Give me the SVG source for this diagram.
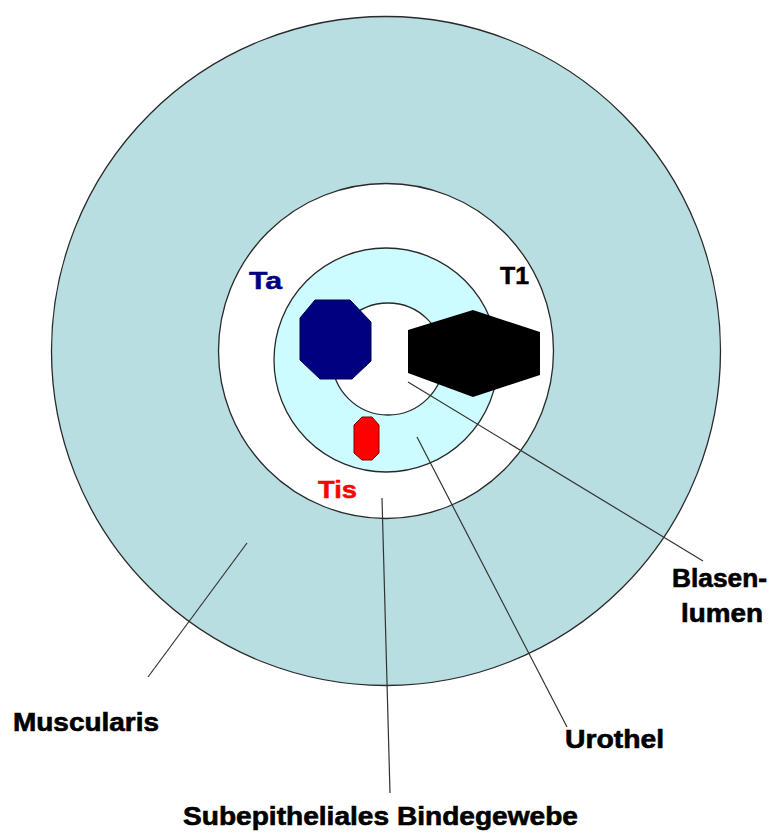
<svg xmlns="http://www.w3.org/2000/svg" width="776" height="834" viewBox="0 0 776 834">
  <style>
    .ring { stroke: #2a2a2a; stroke-width: 1.3; }
    .lbl { font-family: "Liberation Sans", Arial, sans-serif; font-weight: bold; font-size: 25px; fill: #000; stroke: #000; stroke-width: 0.6; }
    .tag { font-family: "Liberation Sans", Arial, sans-serif; font-weight: bold; font-size: 24px; stroke-width: 0.5; }
    .conn line { stroke: #333; stroke-width: 1.2; }
  </style>
  <rect x="0" y="0" width="776" height="834" fill="#ffffff"/>
  <g id="muscularis-layer">
    <circle class="ring" cx="386" cy="351" r="334.5" fill="#b8dee2"/>
  </g>
  <g id="subepithel-layer">
    <circle class="ring" cx="386" cy="351" r="167.5" fill="#ffffff"/>
  </g>
  <g id="urothel-layer">
    <circle class="ring" cx="386" cy="360" r="112" fill="#ccfcff"/>
  </g>
  <g id="lumen">
    <circle class="ring" cx="388" cy="359" r="56" fill="#ffffff"/>
  </g>
  <g id="ta-tumor">
    <polygon points="315,300 350,300 371,322 371,361 352,379 320,379 300,360 300,318" fill="#000080" stroke="#000050" stroke-width="1"/>
  </g>
  <g id="t1-tumor">
    <polygon points="473,310 540,332 540,375 473,397 408,373 408,330" fill="#000000"/>
  </g>
  <g id="tis-tumor">
    <polygon points="362,417 372,417 379,425 379,453 372,460 362,460 354,453 354,425" fill="#ff0000" stroke="#800000" stroke-width="1"/>
  </g>
  <g class="conn" id="connectors">
    <line x1="408" y1="382" x2="703" y2="561"/>
    <line x1="417" y1="437" x2="567" y2="727"/>
    <line x1="382" y1="498" x2="390" y2="793"/>
    <line x1="247" y1="543" x2="148" y2="677"/>
  </g>
  <g id="label-ta">
    <text class="tag" x="249" y="289" fill="#000080" stroke="#000080" textLength="33" lengthAdjust="spacingAndGlyphs">Ta</text>
  </g>
  <g id="label-t1">
    <text class="tag" x="500" y="284" fill="#000000" stroke="#000000" textLength="29" lengthAdjust="spacingAndGlyphs">T1</text>
  </g>
  <g id="label-tis">
    <text class="tag" x="318" y="498" fill="#ff0000" stroke="#ff0000" textLength="39" lengthAdjust="spacingAndGlyphs">Tis</text>
  </g>
  <g id="label-blasenlumen">
    <text class="lbl" x="672" y="587" textLength="95" lengthAdjust="spacingAndGlyphs">Blasen-</text>
    <text class="lbl" x="681" y="622" textLength="82" lengthAdjust="spacingAndGlyphs">lumen</text>
  </g>
  <g id="label-urothel">
    <text class="lbl" x="565" y="748" textLength="99" lengthAdjust="spacingAndGlyphs">Urothel</text>
  </g>
  <g id="label-muscularis">
    <text class="lbl" x="13" y="731" textLength="146" lengthAdjust="spacingAndGlyphs">Muscularis</text>
  </g>
  <g id="label-subepithel">
    <text class="lbl" x="183" y="825" textLength="395" lengthAdjust="spacingAndGlyphs">Subepitheliales Bindegewebe</text>
  </g>
</svg>
